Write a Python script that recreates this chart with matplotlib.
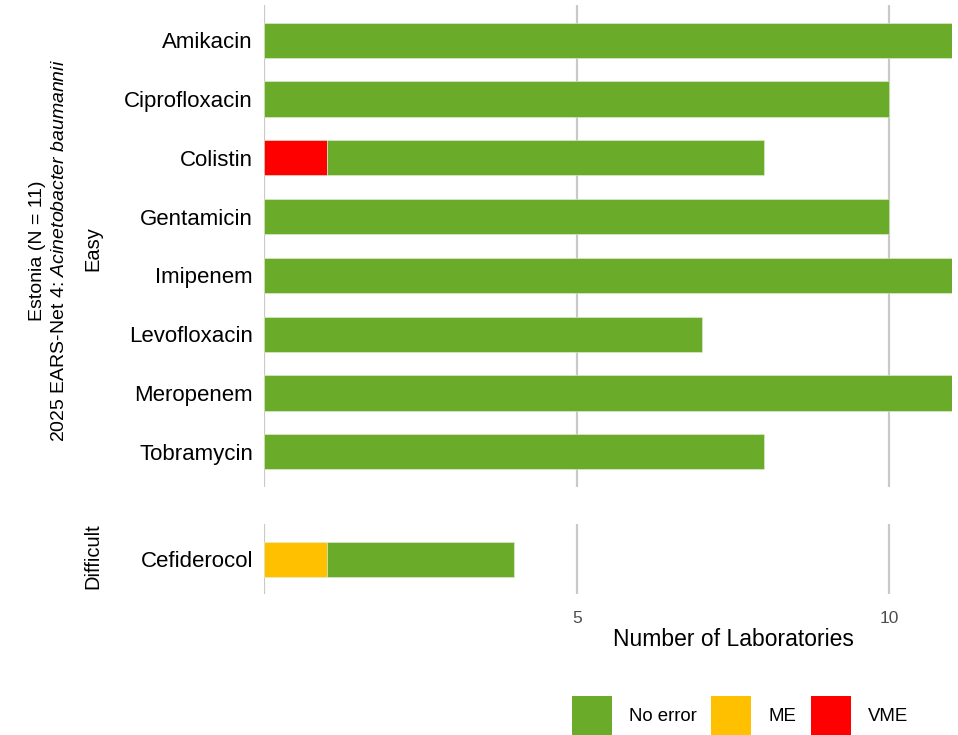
import matplotlib
matplotlib.use("Agg")
import matplotlib.pyplot as plt
from matplotlib.patches import Patch

plt.rcParams['font.family'] = ['Liberation Sans', 'DejaVu Sans']
plt.rcParams['mathtext.fontset'] = 'custom'
plt.rcParams['mathtext.rm'] = 'Liberation Sans'
plt.rcParams['mathtext.it'] = 'Liberation Sans:italic'

# data
easy_drugs = ["Amikacin", "Ciprofloxacin", "Colistin", "Gentamicin",
              "Imipenem", "Levofloxacin", "Meropenem", "Tobramycin"]
easy_vme = [0, 0, 1, 0, 0, 0, 0, 0]
easy_me = [0, 0, 0, 0, 0, 0, 0, 0]
easy_ok = [11, 10, 7, 10, 11, 7, 11, 8]

hard_drugs = ["Cefiderocol"]
hard_vme = [0]
hard_me = [1]
hard_ok = [3]

x_ticks = [0, 5, 10]
x_ticklabels = ["", "5", "10"]

c_ok = "#6aab29"
c_me = "#ffc000"
c_vme = "#ff0000"
grid_c = "#c9c9c9"

W, H = 958, 735
fig = plt.figure(figsize=(W / 100, H / 100), dpi=100)


def px_axes(x0, y0, x1, y1):
    return fig.add_axes([x0 / W, 1 - y1 / H, (x1 - x0) / W, (y1 - y0) / H])


ax1 = px_axes(264, 5, 952, 487)
ax2 = px_axes(264, 524, 952, 594)


def draw(ax, drugs, vme, me, ok):
    ys = list(range(len(drugs)))
    left = [0] * len(drugs)
    for vals, col in [(vme, c_vme), (me, c_me), (ok, c_ok)]:
        ax.barh(ys, vals, left=left, height=0.6, color=col,
                edgecolor="#e4efd8", linewidth=0.4, zorder=3)
        left = [a + b for a, b in zip(left, vals)]
    ax.set_ylim(len(drugs) - 1 + 0.6, -0.6)
    ax.set_xlim(0, 11)
    ax.set_yticks(ys)
    ax.set_yticklabels(drugs, fontsize=16, color="black")
    ax.set_xticks(x_ticks)
    ax.grid(axis="x", color=grid_c, linewidth=1.6, zorder=0)
    ax.tick_params(length=0, pad=8)
    for s in ax.spines.values():
        s.set_visible(False)


draw(ax1, easy_drugs, easy_vme, easy_me, easy_ok)
draw(ax2, hard_drugs, hard_vme, hard_me, hard_ok)
ax1.set_xticklabels([])
ax2.set_xticklabels(x_ticklabels, fontsize=12.5, color="#4d4d4d")
ax2.tick_params(axis="x", pad=12)

# facet strips
fig.text(93 / W, 1 - 249 / H, "Easy", rotation=90, ha="center", va="center", fontsize=14.5)
fig.text(93 / W, 1 - 556 / H, "Difficult", rotation=90, ha="center", va="center", fontsize=14.5)

# y title
fig.text(37 / W, 1 - 251 / H, "Estonia (N = 11)", rotation=90,
         ha="center", va="center", fontsize=14)
fig.text(60 / W, 1 - 251 / H,
         r"2025 EARS-Net 4: $\it{Acinetobacter\ baumannii}$", rotation=90,
         ha="center", va="center", fontsize=14)

fig.text(733 / W, 1 - 640 / H, "Number of Laboratories", ha="center",
         va="center", fontsize=16.5)

handles = [Patch(facecolor=c_ok, label="No error"),
           Patch(facecolor=c_me, label="ME"),
           Patch(facecolor=c_vme, label="VME")]
fig.legend(handles=handles, loc="center", bbox_to_anchor=(740 / W, 1 - 716 / H),
           ncol=3, frameon=False, fontsize=13.4, handlelength=2.15, handleheight=2.93,
           handletextpad=0.9, columnspacing=0.8, borderpad=0)

fig.savefig("out.png", dpi=100)
